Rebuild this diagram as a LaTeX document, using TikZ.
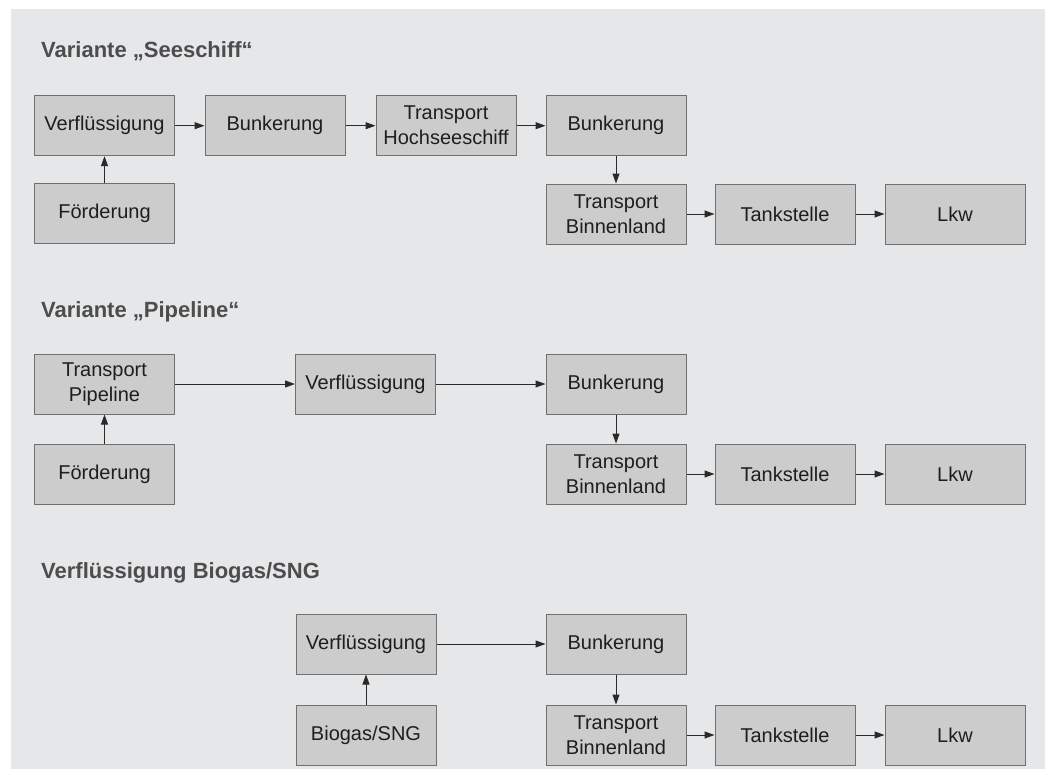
\documentclass[tikz,border=0pt]{standalone}
\usepackage{fontspec}
\setmainfont{Liberation Sans}
\usetikzlibrary{arrows.meta}
\definecolor{bggray}{HTML}{E6E7E9}
\definecolor{boxfill}{HTML}{CCCCCC}
\definecolor{boxline}{HTML}{707070}
\definecolor{titlecol}{HTML}{4D4D4D}
\definecolor{txtcol}{HTML}{1E1E1E}
\definecolor{arrcol}{HTML}{2A2A2A}
\tikzset{
  procbox/.style={draw=boxline, line width=1pt, fill=boxfill, minimum width=140pt, minimum height=60pt,
    inner sep=0pt, align=center, text=txtcol, font=\fontsize{20}{25}\selectfont},
  titletext/.style={anchor=west, inner sep=0pt, text=titlecol, font=\fontsize{22}{26}\selectfont\bfseries},
  flow/.style={draw=arrcol, line width=1pt, -{Triangle[length=10pt,width=7pt]}}
}
\begin{document}
\begin{tikzpicture}[x=1pt,y=-1pt]
\useasboundingbox (0,0) rectangle (1045,769);
\fill[bggray] (11,9) rectangle (1045,769);
% Titles
\node[titletext] (t1) at (41,51) {Variante „Seeschiff“};
\node[titletext] (t2) at (41,312) {Variante „Pipeline“};
\node[titletext] (t3) at (41,573) {Verflüssigung Biogas/SNG};
% Row 1
\node[procbox] (a1) at (104.5,125.7) {Verflüssigung};
\node[procbox] (a2) at (104.5,213.7) {Förderung};
\node[procbox] (b1) at (275,125.7) {Bunkerung};
\node[procbox] (c1) at (446,125.7) {Transport\\Hochseeschiff};
\node[procbox] (d1) at (616,125.7) {Bunkerung};
\node[procbox] (d2) at (616,214) {Transport\\Binnenland};
\node[procbox] (e2) at (785,214) {Tankstelle};
\node[procbox] (f2) at (955,214) {Lkw};
\draw[flow] (a2) -- (a1);
\draw[flow] (a1) -- (b1);
\draw[flow] (b1) -- (c1);
\draw[flow] (c1) -- (d1);
\draw[flow] (d1) -- (d2);
\draw[flow] (d2) -- (e2);
\draw[flow] (e2) -- (f2);
% Row 2
\node[procbox] (pa1) at (104.5,384) {Transport\\Pipeline};
\node[procbox] (pa2) at (104.5,474) {Förderung};
\node[procbox] (pb1) at (365.5,384) {Verflüssigung};
\node[procbox] (pd1) at (616,384) {Bunkerung};
\node[procbox] (pd2) at (616,474) {Transport\\Binnenland};
\node[procbox] (pe2) at (785,474) {Tankstelle};
\node[procbox] (pf2) at (955,474) {Lkw};
\draw[flow] (pa2) -- (pa1);
\draw[flow] (pa1) -- (pb1);
\draw[flow] (pb1) -- (pd1);
\draw[flow] (pd1) -- (pd2);
\draw[flow] (pd2) -- (pe2);
\draw[flow] (pe2) -- (pf2);
% Row 3
\node[procbox] (vb1) at (366,644) {Verflüssigung};
\node[procbox] (vb2) at (366,735) {Biogas/SNG};
\node[procbox] (vd1) at (616,644) {Bunkerung};
\node[procbox] (vd2) at (616,735) {Transport\\Binnenland};
\node[procbox] (ve2) at (785,735) {Tankstelle};
\node[procbox] (vf2) at (955,735) {Lkw};
\draw[flow] (vb2) -- (vb1);
\draw[flow] (vb1) -- (vd1);
\draw[flow] (vd1) -- (vd2);
\draw[flow] (vd2) -- (ve2);
\draw[flow] (ve2) -- (vf2);
\end{tikzpicture}
\end{document}
